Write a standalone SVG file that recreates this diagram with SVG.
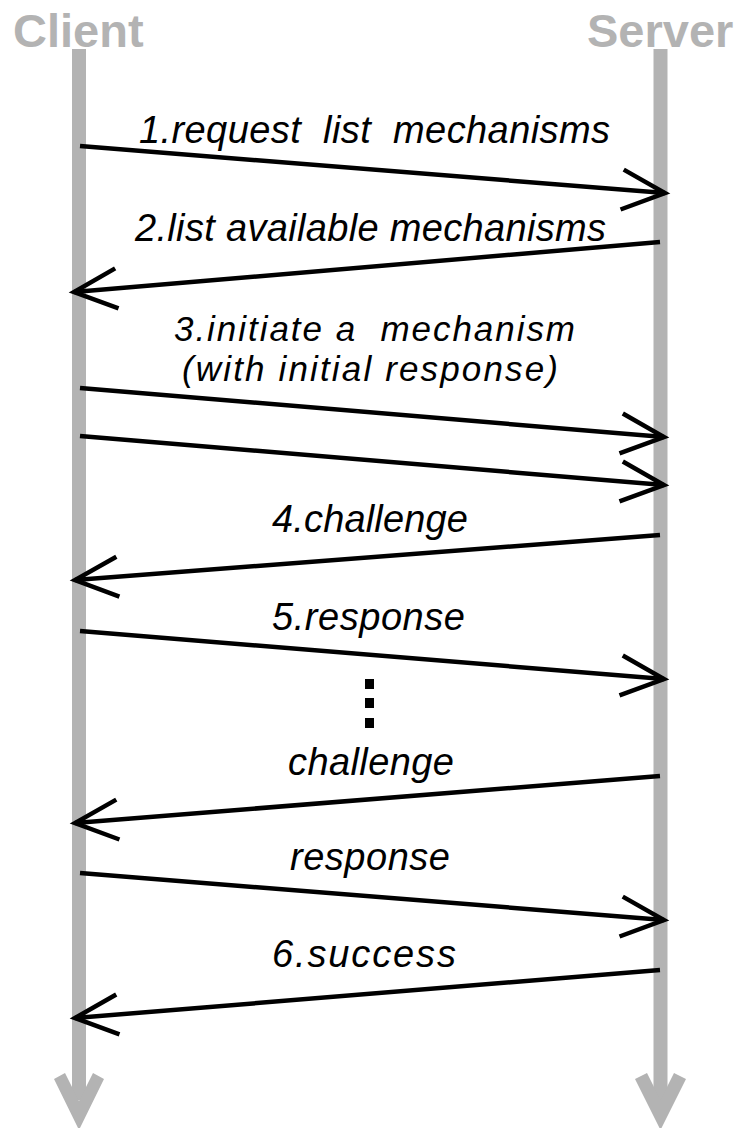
<svg xmlns="http://www.w3.org/2000/svg" width="738" height="1128" viewBox="0 0 738 1128">
<style>
.title{font-family:"Liberation Sans",Arial,sans-serif;font-weight:bold;font-size:47px;fill:#b3b3b3}
.life{stroke:#b3b3b3;stroke-width:14;fill:none}
.head{fill:#b3b3b3}
.msg{stroke:#000;stroke-width:4.5;fill:none;marker-end:url(#open)}
.lbl{font-family:"Liberation Sans",Arial,sans-serif;font-style:italic;font-size:38px;fill:#000}
.lbl2{font-family:"Liberation Sans",Arial,sans-serif;font-style:italic;font-size:35px;fill:#000}
</style>
<defs>
<marker id="open" markerUnits="userSpaceOnUse" orient="auto" viewBox="-50 -26 56 52" refX="0" refY="0" markerWidth="56" markerHeight="52" overflow="visible">
<path d="M -43 -20 L 0 0 L -43 20" fill="none" stroke="#000" stroke-width="4.5" stroke-linejoin="miter"/>
</marker>
</defs>
<rect width="738" height="1128" fill="#fff"/>
<g id="client">
<line class="life" x1="79" y1="49" x2="79" y2="1100"/>
<polygon class="head" points="79,1130 54,1079 65,1073 79,1101 93,1073 104,1079"/>
<text class="title" x="13" y="47">Client</text>
</g>
<g id="server">
<line class="life" x1="660.5" y1="49" x2="660.5" y2="1100"/>
<polygon class="head" points="660.5,1130 635,1079 647,1073 660.5,1100 674,1073 686,1079"/>
<text class="title" x="587" y="47">Server</text>
</g>
<g id="connectors">
<line class="msg" x1="80" y1="146" x2="665" y2="193"/>
<line class="msg" x1="660" y1="242" x2="74" y2="292"/>
<line class="msg" x1="80" y1="388" x2="664" y2="437"/>
<line class="msg" x1="80" y1="436" x2="664" y2="485"/>
<line class="msg" x1="660" y1="535" x2="75" y2="580"/>
<line class="msg" x1="80" y1="631" x2="664" y2="679"/>
<line class="msg" x1="660" y1="776" x2="75" y2="823"/>
<line class="msg" x1="80" y1="873" x2="664" y2="920"/>
<line class="msg" x1="660" y1="970" x2="75" y2="1018"/>
</g>
<g id="labels">
<text class="lbl" x="139" y="143" xml:space="preserve" textLength="471">1.request  list  mechanisms</text>
<text class="lbl" x="135" y="241" textLength="471">2.list available mechanisms</text>
<text class="lbl2" x="174" y="341" xml:space="preserve" textLength="401">3.initiate a  mechanism</text>
<text class="lbl2" x="182" y="381" textLength="376">(with initial response)</text>
<text class="lbl" x="272" y="532" textLength="196">4.challenge</text>
<text class="lbl" x="272" y="630" textLength="193">5.response</text>
<text class="lbl" x="288" y="775" textLength="166">challenge</text>
<text class="lbl" x="290" y="870" textLength="160">response</text>
<text class="lbl" x="272" y="967" textLength="184">6.success</text>
</g>
<g id="ellipsis" fill="#000">
<rect x="365" y="679" width="9" height="10"/>
<rect x="365" y="698" width="9" height="10"/>
<rect x="365" y="718" width="9" height="10"/>
</g>
</svg>
